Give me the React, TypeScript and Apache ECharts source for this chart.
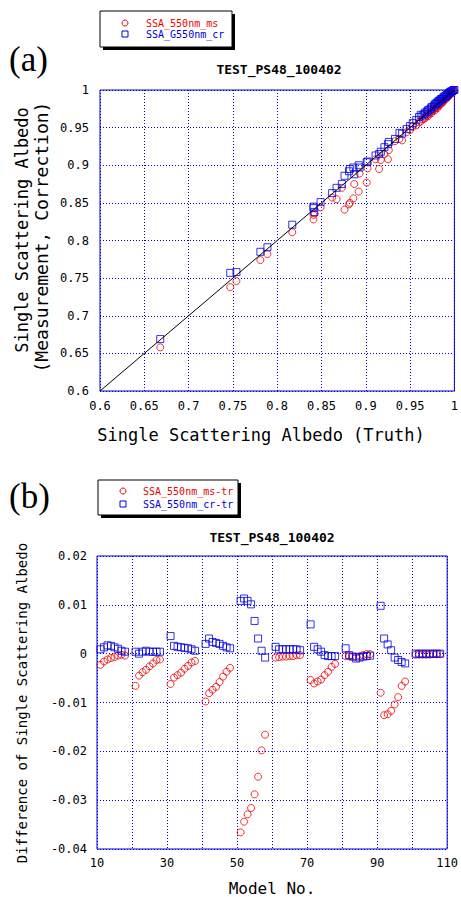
import React, { useEffect, useRef } from "react";
import * as echarts from "echarts";

// Panel (a): truth vs measured / corrected SSA
const truthA = [
  0.668, 0.747, 0.754, 0.781, 0.789, 0.817, 0.841, 0.841, 0.842, 0.849,
  0.862, 0.867, 0.873, 0.876, 0.881, 0.882, 0.886, 0.887, 0.892, 0.893,
  0.901, 0.902, 0.911, 0.915, 0.917, 0.921, 0.925, 0.926, 0.933, 0.938,
  0.941, 0.946, 0.950, 0.953, 0.957, 0.960, 0.962, 0.964,
  0.966, 0.967, 0.969, 0.970, 0.971, 0.973, 0.974, 0.975, 0.977, 0.978,
  0.979, 0.980, 0.981, 0.982, 0.983, 0.984, 0.985, 0.986, 0.987, 0.988,
  0.989, 0.990, 0.991, 0.992, 0.993, 0.994, 0.995, 0.996, 0.997, 0.998,
  0.999, 1.0,
];
const msA = [
  0.658, 0.738, 0.746, 0.774, 0.782, 0.811, 0.828, 0.834, 0.836, 0.844,
  0.857, 0.855, 0.870, 0.841, 0.848, 0.850, 0.856, 0.875, 0.865, 0.889,
  0.877, 0.896, 0.908, 0.895, 0.907, 0.915, 0.908, 0.920, 0.932, 0.935,
  0.933, 0.944, 0.947, 0.951, 0.953, 0.957, 0.958, 0.961,
  0.962, 0.963, 0.966, 0.965, 0.968, 0.970, 0.969, 0.972, 0.974, 0.973,
  0.976, 0.977, 0.976, 0.979, 0.980, 0.981, 0.982, 0.983, 0.984, 0.986,
  0.987, 0.988, 0.989, 0.990, 0.991, 0.993, 0.994, 0.995, 0.996, 0.997,
  0.998, 0.999,
];
const crA = [
  0.669, 0.757, 0.758, 0.785, 0.791, 0.821, 0.845, 0.843, 0.838, 0.851,
  0.863, 0.870, 0.875, 0.886, 0.892, 0.895, 0.897, 0.888, 0.900, 0.897,
  0.904, 0.905, 0.913, 0.915, 0.918, 0.924, 0.928, 0.931, 0.935, 0.943,
  0.942, 0.948, 0.952, 0.956, 0.960, 0.964, 0.967, 0.966,
  0.968, 0.970, 0.971, 0.973, 0.973, 0.975, 0.977, 0.977, 0.979, 0.981,
  0.981, 0.983, 0.983, 0.985, 0.986, 0.986, 0.988, 0.988, 0.989, 0.991,
  0.991, 0.992, 0.993, 0.994, 0.995, 0.996, 0.997, 0.998, 0.998, 0.999,
  1.0, 1.0,
];

// Panel (b): differences by model number
const modelNo = [
  11, 12, 13, 14, 15, 16, 17, 18,
  21, 22, 23, 24, 25, 26, 27, 28,
  31, 32, 33, 34, 35, 36, 37, 38,
  41, 42, 43, 44, 45, 46, 47, 48,
  51, 52, 53, 54, 55, 56, 57, 58,
  61, 62, 63, 64, 65, 66, 67, 68,
  71, 72, 73, 74, 75, 76, 77, 78,
  81, 82, 83, 84, 85, 86, 87, 88,
  91, 92, 93, 94, 95, 96, 97, 98,
  101, 102, 103, 104, 105, 106, 107, 108,
];
const diffMs = [
  -0.0023, -0.0016, -0.0012, -0.0009, -0.0007, -0.0004, -0.0002, -0.0004,
  -0.0066, -0.0045, -0.0038, -0.0033, -0.0026, -0.0020, -0.0013, -0.0012,
  -0.0062, -0.0049, -0.0044, -0.0039, -0.0031, -0.0025, -0.0018, -0.0015,
  -0.0098, -0.0081, -0.0074, -0.0068, -0.0058, -0.0047, -0.0037, -0.0029,
  -0.0366, -0.0344, -0.0329, -0.0316, -0.0288, -0.0252, -0.0198, -0.0166,
  -0.0008, -0.0007, -0.0006, -0.0006, -0.0005, -0.0005, -0.0003, -0.0003,
  -0.0054, -0.0061, -0.0057, -0.0053, -0.0044, -0.0037, -0.0027, -0.0021,
  -0.0005, -0.0005, -0.0006, -0.0006, -0.0005, -0.0003, -0.0001, -0.0001,
  -0.0080, -0.0126, -0.0124, -0.0117, -0.0104, -0.0089, -0.0066, -0.0057,
  -0.0002, -0.0002, -0.0002, -0.0002, -0.0002, -0.0001, -0.0001, -0.0001,
];
const diffCr = [
  0.0009, 0.0013, 0.0017, 0.0016, 0.0013, 0.0010, 0.0006, 0.0004,
  0.0004, 0.0000, 0.0004, 0.0006, 0.0004, 0.0004, 0.0004, 0.0004,
  0.0036, 0.0016, 0.0014, 0.0013, 0.0012, 0.0011, 0.0009, 0.0006,
  0.0020, 0.0031, 0.0024, 0.0022, 0.0020, 0.0016, 0.0013, 0.0011,
  0.0108, 0.0113, 0.0108, 0.0101, 0.0067, 0.0031, 0.0006, -0.0008,
  0.0014, 0.0009, 0.0009, 0.0009, 0.0009, 0.0009, 0.0009, 0.0007,
  0.0060, 0.0014, 0.0009, 0.0004, -0.0003, -0.0005, -0.0005, -0.0005,
  0.0011, -0.0003, -0.0006, -0.0010, -0.0008, -0.0006, -0.0005, -0.0004,
  0.0098, 0.0031, 0.0019, 0.0007, -0.0008, -0.0013, -0.0017, -0.0020,
  0.0000, 0.0000, 0.0000, 0.0000, 0.0000, 0.0000, 0.0000, 0.0000,
];

const chartTitle = "TEST_PS48_100402";
const legendA = ["SSA_550nm_ms", "SSA_G550nm_cr"];
const legendB = ["SSA_550nm_ms-tr", "SSA_550nm_cr-tr"];

const RED = "#ee0000";
const BLUE = "#0000dd";
const MONO = '"DejaVu Sans Mono", monospace';
const SERIF = '"Liberation Serif", "DejaVu Serif", serif';

function txt(text: string, x: number, y: number, font: string, fill: string, align = "left", rotation = 0) {
  return {
    type: "text",
    x,
    y,
    rotation,
    silent: true,
    style: { text, font, fill, textAlign: align, align, textVerticalAlign: "middle", verticalAlign: "middle" },
  };
}

function legendBox(x: number, y: number, w: number, h: number, labels: string[], cy1: number, cy2: number, tx: number, mx: number) {
  return [
    { type: "rect", shape: { x: x + 3, y: y + 3, width: w, height: h }, style: { fill: "#000" }, silent: true },
    { type: "rect", shape: { x, y, width: w, height: h }, style: { fill: "#fff", stroke: "#000", lineWidth: 1 }, silent: true },
    { type: "circle", shape: { cx: mx, cy: cy1, r: 3 }, style: { fill: "none", stroke: RED, lineWidth: 1 }, silent: true },
    { type: "rect", shape: { x: mx - 3, y: cy2 - 3, width: 6, height: 6 }, style: { fill: "none", stroke: BLUE, lineWidth: 1 }, silent: true },
    txt(labels[0], tx, cy1, `10px ${MONO}`, RED),
    txt(labels[1], tx, cy2, `10px ${MONO}`, BLUE),
  ];
}

export default function App() {
  const ref = useRef<HTMLDivElement>(null);
  useEffect(() => {
    const chart = echarts.init(ref.current!, null, { renderer: "svg" });
    const axisCommon = {
      axisLine: { show: false },
      axisTick: { show: false },
      splitLine: { show: true, lineStyle: { color: BLUE, type: [1, 2], width: 1 } },
    };
    const labelStyle = { color: "#000", fontFamily: MONO, fontSize: 12 };
    const option: any = {
      animation: false,
      backgroundColor: "#fff",
      grid: [
        { left: 100, top: 90, width: 360, height: 301, show: true, borderColor: BLUE, borderWidth: 1, backgroundColor: "transparent" },
        { left: 97, top: 556, width: 351, height: 293, show: true, borderColor: BLUE, borderWidth: 1, backgroundColor: "transparent" },
      ],
      xAxis: [
        { type: "value", gridIndex: 0, min: 0.6, max: 1, interval: 0.05, ...axisCommon, axisLabel: { ...labelStyle, margin: 9 } },
        {
          type: "value", gridIndex: 1, min: 10, max: 110, interval: 10, ...axisCommon,
          axisLabel: { ...labelStyle, margin: 8, formatter: (v: number) => ((Math.round(v) - 10) % 20 === 0 ? String(Math.round(v)) : "") },
        },
      ],
      yAxis: [
        { type: "value", gridIndex: 0, min: 0.6, max: 1, interval: 0.05, ...axisCommon, axisLabel: { ...labelStyle, margin: 11 } },
        {
          type: "value", gridIndex: 1, min: -0.04, max: 0.02, interval: 0.01, ...axisCommon,
          axisLabel: { ...labelStyle, margin: 10, formatter: (v: number) => String(Number(v.toFixed(2))) },
        },
      ],
      series: [
        {
          type: "line", xAxisIndex: 0, yAxisIndex: 0, data: [[0.6, 0.6], [1, 1]], symbol: "none",
          lineStyle: { color: "#000", width: 1 }, silent: true,
        },
        {
          name: legendA[0], type: "scatter", xAxisIndex: 0, yAxisIndex: 0, symbol: "circle", symbolSize: 7,
          data: truthA.map((t, i) => [t, msA[i]]),
          itemStyle: { color: "rgba(0,0,0,0)", borderColor: RED, borderWidth: 1 },
        },
        {
          name: legendA[1], type: "scatter", xAxisIndex: 0, yAxisIndex: 0, symbol: "rect", symbolSize: 7,
          data: truthA.map((t, i) => [t, crA[i]]),
          itemStyle: { color: "rgba(0,0,0,0)", borderColor: BLUE, borderWidth: 1 },
        },
        {
          name: legendB[0], type: "scatter", xAxisIndex: 1, yAxisIndex: 1, symbol: "circle", symbolSize: 7,
          data: modelNo.map((m, i) => [m, diffMs[i]]),
          itemStyle: { color: "rgba(0,0,0,0)", borderColor: RED, borderWidth: 1 },
        },
        {
          name: legendB[1], type: "scatter", xAxisIndex: 1, yAxisIndex: 1, symbol: "rect", symbolSize: 7,
          data: modelNo.map((m, i) => [m, diffCr[i]]),
          itemStyle: { color: "rgba(0,0,0,0)", borderColor: BLUE, borderWidth: 1 },
        },
      ],
      graphic: [
        txt("(a)", 9, 59, `35px ${SERIF}`, "#000"),
        txt("(b)", 9, 496, `35px ${SERIF}`, "#000"),
        txt(chartTitle, 279, 69, `bold 13px ${MONO}`, "#000", "center"),
        txt(chartTitle, 272, 537, `bold 13px ${MONO}`, "#000", "center"),
        txt("Single Scattering Albedo (Truth)", 261, 435, `17px ${MONO}`, "#000", "center"),
        txt("Single Scattering Albedo", 22, 230, `17px ${MONO}`, "#000", "center", Math.PI / 2),
        txt("(Measurement, Correction)", 41, 237, `18px ${MONO}`, "#000", "center", Math.PI / 2),
        txt("Difference of Single Scattering Albedo", 22, 703, `14px ${MONO}`, "#000", "center", Math.PI / 2),
        txt("Model No.", 272, 888, `16px ${MONO}`, "#000", "center"),
        ...legendBox(100, 11, 132, 36, legendA, 23, 34, 146, 125),
        ...legendBox(98, 480, 140, 35, legendB, 491, 504, 143, 123),
      ],
    };
    chart.setOption(option);
    return () => chart.dispose();
  }, []);
  return (
    <div
      ref={ref}
      style={{ position: "fixed", left: 0, top: 0, width: 461, height: 897, background: "#fff" }}
    />
  );
}
